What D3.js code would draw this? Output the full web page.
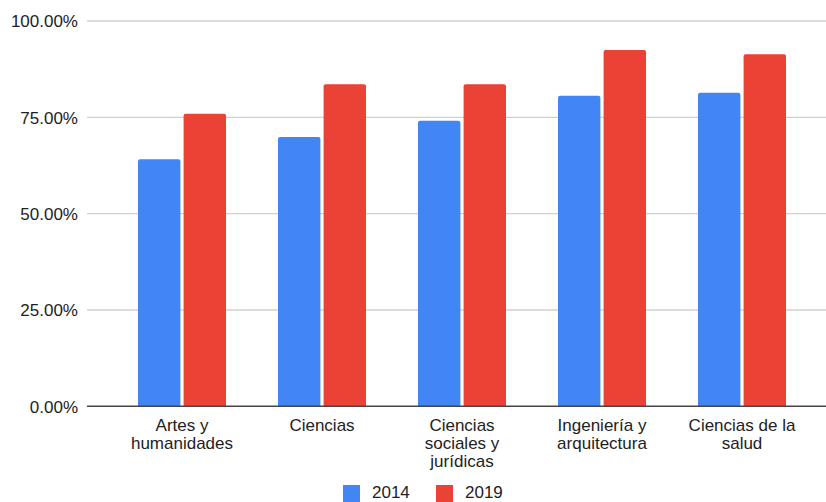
<!DOCTYPE html>
<html><head><meta charset="utf-8">
<script src="https://cdn.jsdelivr.net/npm/d3@7"></script>
<style>html,body{margin:0;padding:0;background:#fff;}svg{display:block;font-family:"Liberation Sans",Arial,sans-serif;}</style>
</head><body>
<svg id="chart" width="826" height="502"></svg>
<script>
const categories = [["Artes y","humanidades"],["Ciencias"],["Ciencias","sociales y","jurídicas"],["Ingeniería y","arquitectura"],["Ciencias de la","salud"]];
const seriesNames = ["2014","2019"];
const values2014 = [64.1, 69.9, 74.1, 80.6, 81.4];
const values2019 = [75.9, 83.6, 83.6, 92.5, 91.4];
const yTicks = [0, 25, 50, 75, 100];
const colors = ["#4285f4", "#ea4335"];

const svg = d3.select("#chart");
const x0 = d3.scaleBand().domain(d3.range(categories.length)).range([112, 812]).paddingInner(0).paddingOuter(0);
const y = d3.scaleLinear().domain([0, 100]).range([406.3, 21]);
const x1 = d3.scaleBand().domain(seriesNames).range([26, 114]).paddingInner(0.07);

// gridlines
svg.append("g").selectAll("line").data(yTicks.filter(d => d > 0)).join("line")
  .attr("x1", 87).attr("x2", 826).attr("y1", d => y(d)).attr("y2", d => y(d))
  .attr("stroke", "#d0d0d0").attr("stroke-width", 1.3);

// y labels
const yAxis = d3.axisLeft(y).tickValues(yTicks).tickSize(0).tickFormat(d => d.toFixed(2) + "%");
const ga = svg.append("g").attr("transform", "translate(78,0)").call(yAxis);
ga.select(".domain").remove();
ga.selectAll("text").attr("font-size", 17).attr("fill", "#222").attr("x", 0).attr("dy", "0.35em")
  .style("font-family", "'Liberation Sans',Arial,sans-serif");

// bars
const data = categories.map((c, i) => ({i, vals: [values2014[i], values2019[i]]}));
const groups = svg.append("g").selectAll("g").data(data).join("g")
  .attr("transform", d => `translate(${x0(d.i)},0)`);
groups.selectAll("path").data(d => d.vals.map((v, k) => ({v, k}))).join("path")
  .attr("fill", d => colors[d.k])
  .attr("d", d => {
    const bx = x1(seriesNames[d.k]), bw = x1.bandwidth(), top = y(d.v), bot = y(0), r = 2;
    return `M${bx},${bot}V${top + r}Q${bx},${top} ${bx + r},${top}H${bx + bw - r}Q${bx + bw},${top} ${bx + bw},${top + r}V${bot}Z`;
  });

// baseline
svg.append("line").attr("x1", 87).attr("x2", 826).attr("y1", y(0)).attr("y2", y(0))
  .attr("stroke", "#444").attr("stroke-width", 1.5);

// x labels
const xl = svg.append("g").selectAll("text").data(categories).join("text")
  .attr("x", (d, i) => x0(i) + x0.bandwidth() / 2).attr("y", 431)
  .attr("text-anchor", "middle").attr("font-size", 17).attr("fill", "#222");
xl.selectAll("tspan").data(d => d).join("tspan")
  .attr("x", function() { return this.parentNode.getAttribute("x"); })
  .attr("dy", (d, j) => j === 0 ? 0 : 18).text(d => d);

// legend
const legX = [343, 436];
const leg = svg.append("g").selectAll("g").data(seriesNames).join("g")
  .attr("transform", (d, i) => `translate(${legX[i]},485)`);
leg.append("rect").attr("width", 17).attr("height", 17).attr("fill", (d, i) => colors[i]);
leg.append("text").attr("x", 29).attr("y", 13).attr("font-size", 17).attr("fill", "#222").text(d => d);
</script>
</body></html>
